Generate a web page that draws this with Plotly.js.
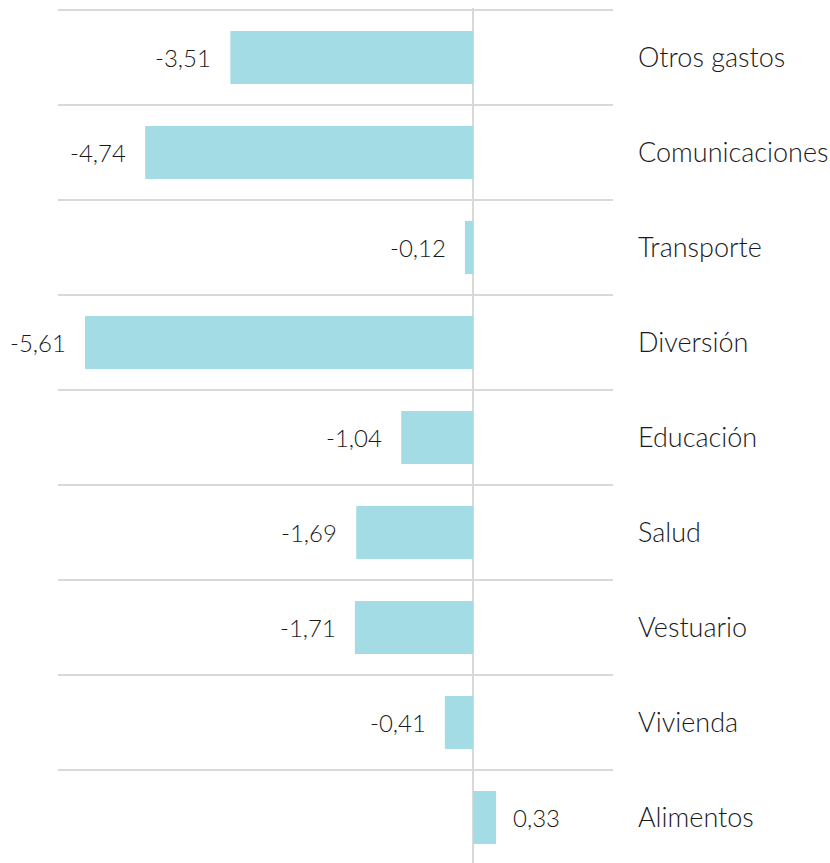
<!DOCTYPE html>
<html>
<head>
<meta charset="utf-8">
<script src="https://cdn.plot.ly/plotly-3.0.1.min.js"></script>
<style>html,body{margin:0;padding:0;background:#fff;}#chart{width:830px;height:863px;}</style>
</head>
<body>
<div id="chart"></div>
<script>
const categories = ["Otros gastos","Comunicaciones","Transporte","Diversión","Educación","Salud","Vestuario","Vivienda","Alimentos"];
const values = [-3.51,-4.74,-0.12,-5.61,-1.04,-1.69,-1.71,-0.41,0.33];
const valueLabels = values.map(v => v.toFixed(2).replace('.', ','));

const FONT = "Lato, 'Open Sans', sans-serif";

const trace = {
  type: 'bar',
  orientation: 'h',
  x: values,
  y: categories,
  marker: {color: '#A3DCE4'},
  width: 0.56,
  hoverinfo: 'skip'
};

const annotations = values.map((v, i) => ({
  x: v, y: categories[i], xref: 'x', yref: 'y',
  text: valueLabels[i], showarrow: false,
  xanchor: v < 0 ? 'right' : 'left',
  xshift: v < 0 ? -17 : 15,
  font: {family: FONT, size: 24, color: '#1a1a1a', weight: 300}
}));

const layout = {
  width: 830, height: 863,
  margin: {l: 58, r: 217, t: 8, b: 0},
  paper_bgcolor: '#fff', plot_bgcolor: '#fff',
  showlegend: false,
  separators: ',.',
  xaxis: {
    range: [-6.0, 2.02],
    showgrid: false, showticklabels: false, ticks: '',
    zeroline: true, zerolinecolor: '#d9d9d9', zerolinewidth: 1.5,
    showline: false, fixedrange: true
  },
  yaxis: {
    type: 'category',
    range: [8.479, -0.521],
    side: 'right',
    tickson: 'boundaries',
    showgrid: true, gridcolor: '#d9d9d9', gridwidth: 2,
    ticks: '', showline: false,
    ticklabelstandoff: 24,
    tickfont: {family: FONT, size: 27, color: '#1a1a1a', weight: 300},
    fixedrange: true
  },
  annotations: annotations
};

Plotly.newPlot('chart', [trace], layout, {displayModeBar: false, staticPlot: true});
</script>
</body>
</html>
